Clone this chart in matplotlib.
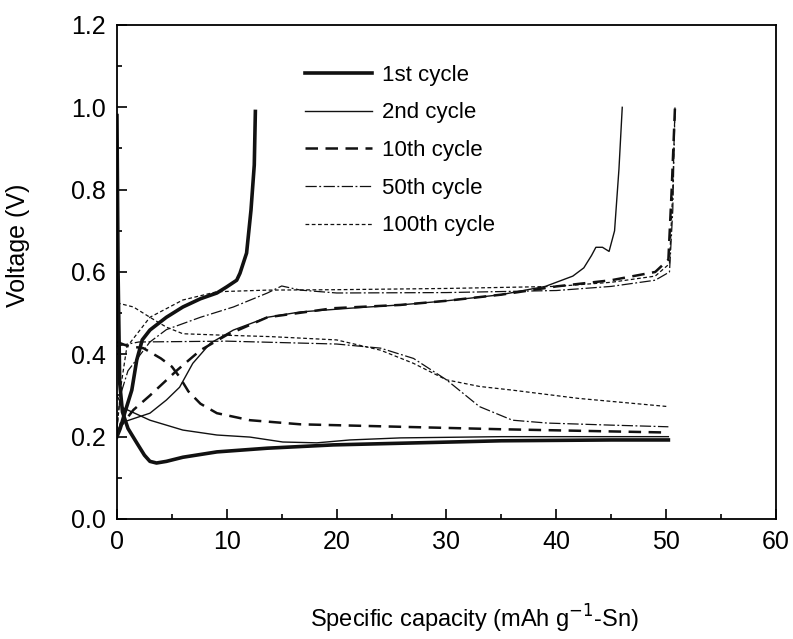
import matplotlib
matplotlib.use("Agg")
import matplotlib.pyplot as plt
from matplotlib.ticker import MultipleLocator

plt.rcParams['font.family'] = ['Liberation Sans', 'DejaVu Sans']

# 1st cycle
c1_dis_x = [0, 0.1, 0.25, 0.5, 1.0, 1.8, 2.5, 3.0, 3.6, 4.5, 6.0, 9.1, 13.7, 19.7, 25.8, 35, 45, 50.2]
c1_dis_y = [0.98, 0.6, 0.33, 0.26, 0.22, 0.185, 0.155, 0.14, 0.136, 0.14, 0.15, 0.163, 0.172, 0.18, 0.184, 0.19, 0.192, 0.192]
c1_chg_x = [0, 0.3, 0.7, 1.35, 1.8, 2.3, 3.0, 4.5, 6.0, 7.6, 9.1, 10.0, 10.9, 11.2, 11.8, 12.2, 12.5, 12.6]
c1_chg_y = [0.2, 0.22, 0.257, 0.313, 0.386, 0.435, 0.459, 0.49, 0.515, 0.535, 0.549, 0.564, 0.58, 0.597, 0.646, 0.75, 0.86, 0.99]

# 2nd cycle
c2_dis_x = [0, 0.55, 3, 6, 9.1, 12.1, 15.1, 18.2, 21.2, 25.8, 35, 45, 50.2]
c2_dis_y = [0.3, 0.27, 0.24, 0.216, 0.204, 0.199, 0.187, 0.185, 0.192, 0.197, 0.2, 0.2, 0.2]
c2_chg_x = [0, 0.3, 3, 4.5, 5.7, 6.9, 8.5, 10.6, 13.7, 16.7, 21.2, 25.8, 30, 35, 39, 41.5, 42.5,
            43.2, 43.6, 44.2, 44.8, 45.3, 45.7, 46.0]
c2_chg_y = [0.2, 0.233, 0.257, 0.289, 0.32, 0.378, 0.427, 0.459, 0.49, 0.503, 0.512, 0.52, 0.53, 0.545, 0.565, 0.59, 0.61,
            0.64, 0.66, 0.66, 0.65, 0.7, 0.85, 1.0]

# 10th cycle
c10_dis_x = [0, 1, 2.4, 4, 5, 5.7, 6.5, 7.6, 9.1, 12.1, 16.7, 25.8, 35, 50.2]
c10_dis_y = [0.43, 0.42, 0.415, 0.39, 0.37, 0.345, 0.31, 0.28, 0.257, 0.24, 0.23, 0.224, 0.218, 0.21]
c10_chg_x = [0, 0.3, 1.5, 3, 5.5, 7.6, 10, 13.7, 19.7, 25.8, 30, 35, 40, 45, 49, 50.2, 50.5, 50.8]
c10_chg_y = [0.21, 0.224, 0.265, 0.3, 0.362, 0.41, 0.447, 0.49, 0.512, 0.52, 0.53, 0.545, 0.565, 0.58, 0.6, 0.63, 0.8, 1.0]

# 50th cycle
c50_dis_x = [0, 2, 10, 20, 24, 27, 30, 33, 36, 39.2, 45, 50.2]
c50_dis_y = [0.42, 0.43, 0.432, 0.425, 0.415, 0.39, 0.338, 0.273, 0.24, 0.233, 0.228, 0.224]
c50_chg_x = [0, 0.3, 1.0, 3, 4.5, 7.6, 10.6, 13.7, 15, 16.7, 20, 30, 40, 45, 49, 50.3, 50.6, 50.8]
c50_chg_y = [0.22, 0.3, 0.36, 0.43, 0.46, 0.49, 0.515, 0.549, 0.566, 0.556, 0.549, 0.55, 0.555, 0.565, 0.58, 0.6, 0.75, 1.0]

# 100th cycle
c100_dis_x = [0, 1.5, 3, 4.5, 6, 9.1, 14, 20, 24, 27, 30, 33, 36, 42, 50.2]
c100_dis_y = [0.525, 0.515, 0.49, 0.466, 0.45, 0.447, 0.443, 0.435, 0.41, 0.378, 0.338, 0.322, 0.313, 0.293, 0.273]
c100_chg_x = [0, 0.4, 0.9, 3, 6, 9.1, 13.7, 20, 30, 40, 45, 49, 50.3, 50.6, 50.8]
c100_chg_y = [0.22, 0.33, 0.418, 0.49, 0.532, 0.552, 0.556, 0.557, 0.56, 0.565, 0.575, 0.59, 0.62, 0.8, 1.0]

labels = ['1st cycle', '2nd cycle', '10th cycle', '50th cycle', '100th cycle']

fig = plt.figure(figsize=(7.93, 6.39), dpi=100)
ax = fig.add_axes([0.1475, 0.1878, 0.8311, 0.7731])

k = '#111111'
s1 = dict(color=k, lw=2.6, ls='-')
s2 = dict(color=k, lw=1.0, ls='-')
s10 = dict(color=k, lw=1.8, ls=(0, (5, 3)))
s50 = dict(color=k, lw=0.9, ls=(0, (9, 2, 1.5, 2)))
s100 = dict(color=k, lw=0.9, ls=(0, (3, 2)))

ax.plot(c1_dis_x, c1_dis_y, label=labels[0], **s1)
ax.plot(c1_chg_x, c1_chg_y, **s1)
ax.plot(c2_dis_x, c2_dis_y, label=labels[1], **s2)
ax.plot(c2_chg_x, c2_chg_y, **s2)
ax.plot(c10_dis_x, c10_dis_y, label=labels[2], **s10)
ax.plot(c10_chg_x, c10_chg_y, **s10)
ax.plot(c50_dis_x, c50_dis_y, label=labels[3], **s50)
ax.plot(c50_chg_x, c50_chg_y, **s50)
ax.plot(c100_dis_x, c100_dis_y, label=labels[4], **s100)
ax.plot(c100_chg_x, c100_chg_y, **s100)

ax.set_xlim(0, 60)
ax.set_ylim(0, 1.2)
ax.xaxis.set_major_locator(MultipleLocator(10))
ax.xaxis.set_minor_locator(MultipleLocator(5))
ax.yaxis.set_major_locator(MultipleLocator(0.2))
ax.yaxis.set_minor_locator(MultipleLocator(0.1))
ax.yaxis.set_major_formatter(plt.FormatStrFormatter('%.1f'))
ax.tick_params(which='both', direction='in', top=False, right=False, width=1.2, labelsize=18)
ax.tick_params(which='major', length=7)
ax.tick_params(which='minor', length=3.5)
ax.tick_params(axis='y', pad=8)
ax.tick_params(axis='x', pad=8)
for sp in ax.spines.values():
    sp.set_linewidth(1.3)

ax.set_xlabel(r'Specific capacity (mAh g$^{-1}$-Sn)', fontsize=17)
ax.set_ylabel('Voltage (V)', fontsize=18)
ax.xaxis.set_label_coords(0.543, -0.17)
ax.yaxis.set_label_coords(-0.132, 0.555)

ax.legend(loc='upper left', bbox_to_anchor=(0.255, 0.96), frameon=False, fontsize=16,
          handlelength=3.0, handletextpad=0.45, labelspacing=0.75)

fig.savefig('out.png', dpi=100)
